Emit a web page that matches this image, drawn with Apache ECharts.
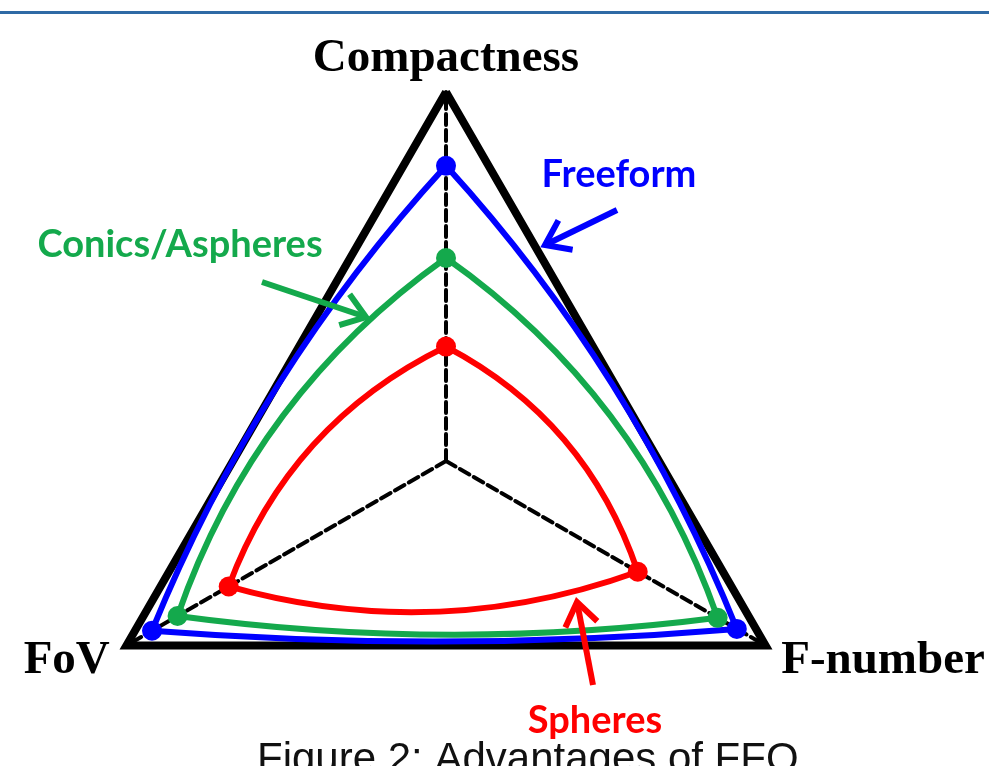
<!DOCTYPE html>
<html><head><meta charset="utf-8">
<script src="https://cdn.jsdelivr.net/npm/echarts@6/dist/echarts.min.js"></script>
<style>html,body{margin:0;padding:0;background:#fff}#c{width:989px;height:766px}</style>
</head><body><div id="c"></div>
<script>
// ---- data ----
const axes = ['Compactness', 'FoV', 'F-number'];
const freeform = [0.80, 0.92, 0.91];
const conics = [0.55, 0.84, 0.85];
const spheres = [0.31, 0.68, 0.60];
const seriesNames = ['Freeform', 'Conics/Aspheres', 'Spheres'];
const caption = 'Figure 2: Advantages of FFO';

// ---- styles ----
const BLUE = '#0000ff', GREEN = '#14a94c', RED = '#ff0000';
const CENTER = [446, 461], RADIUS = 369;
// outward bulge of each edge (fraction of chord): [top->FoV, FoV->F-number, F-number->top]
const bulgeBlue = [0.045, 0.02, 0.045];
const bulgeGreen = [0.08, 0.033, 0.08];
const bulgeRed = [0.10, 0.08, 0.10];

function makeCurve(name, values, color, bulge) {
  return {
    type: 'custom', name: name, coordinateSystem: 'polar', polarIndex: 0,
    data: values.map((v, i) => [v, i]),
    renderItem: function (params, api) {
      const n = values.length, i = params.dataIndex, j = (i + 1) % n;
      const p = api.coord([values[i], i]);
      const q = api.coord([values[j], j]);
      const c = api.coord([0, 0]);
      const mx = (p[0] + q[0]) / 2, my = (p[1] + q[1]) / 2;
      const dx = q[0] - p[0], dy = q[1] - p[1];
      const L = Math.hypot(dx, dy);
      let nx = -dy / L, ny = dx / L;
      if (nx * (mx - c[0]) + ny * (my - c[1]) < 0) { nx = -nx; ny = -ny; }
      const s = bulge[i] * L * 2;
      return {
        type: 'group',
        children: [
          { type: 'bezierCurve',
            shape: { x1: p[0], y1: p[1], x2: q[0], y2: q[1], cpx1: mx + nx * s, cpy1: my + ny * s },
            style: { stroke: color, lineWidth: 6, fill: 'none' }, z2: 1 },
          { type: 'circle', shape: { cx: p[0], cy: p[1], r: 10 },
            style: { fill: color, stroke: 'none' }, z2: 10 }
        ]
      };
    }
  };
}

function arrow(x1, y1, x2, y2, color) {
  const a = Math.atan2(y2 - y1, x2 - x1), w = 28, sp = 0.62;
  const l = [x2 - w * Math.cos(a - sp), y2 - w * Math.sin(a - sp)];
  const r = [x2 - w * Math.cos(a + sp), y2 - w * Math.sin(a + sp)];
  return [
    { type: 'line', shape: { x1: x1, y1: y1, x2: x2, y2: y2 }, style: { stroke: color, lineWidth: 6, lineCap: 'butt' }, z: 20 },
    { type: 'polyline', shape: { points: [l, [x2, y2], r] }, style: { stroke: color, lineWidth: 6, fill: 'none', lineJoin: 'miter' }, z: 20 }
  ];
}

const NAME_FONT = { fontFamily: 'Liberation Serif', fontWeight: 'bold', fontSize: 47, color: '#000' };
const chart = echarts.init(document.getElementById('c'), null, { renderer: 'canvas' });
chart.setOption({
  backgroundColor: '#ffffff',
  animation: false,
  radar: {
    center: CENTER, radius: RADIUS, startAngle: 90, shape: 'polygon', splitNumber: 1,
    indicator: axes.map(a => ({ name: a, min: 0, max: 1 })),
    nameGap: 10,
    axisName: Object.assign({}, NAME_FONT, {
      formatter: function (name) {
        if (name === axes[0]) return '{t|' + name + '}';
        if (name === axes[1]) return '{l|' + name + '}';
        return '{r|' + name + '}';
      },
      rich: {
        t: Object.assign({}, NAME_FONT, { padding: [0, 0, 0, 0] }),
        l: Object.assign({}, NAME_FONT, { padding: [21, 8, 0, 0] }),
        r: Object.assign({}, NAME_FONT, { padding: [21, 0, 0, 7] })
      }
    }),
    splitArea: { show: false },
    splitLine: { lineStyle: { color: '#000', width: 8, join: 'miter' } },
    axisLine: { lineStyle: { color: '#000', width: 4, type: [11, 5] } },
    axisTick: { show: false }, axisLabel: { show: false }
  },
  polar: { center: CENTER, radius: RADIUS },
  angleAxis: {
    type: 'category', data: axes, boundaryGap: false, startAngle: 90, clockwise: false,
    axisLine: { show: false }, axisTick: { show: false }, axisLabel: { show: false }, splitLine: { show: false }
  },
  radiusAxis: {
    type: 'value', min: 0, max: 1,
    axisLine: { show: false }, axisTick: { show: false }, axisLabel: { show: false }, splitLine: { show: false }
  },
  series: [
    makeCurve(seriesNames[0], freeform, BLUE, bulgeBlue),
    makeCurve(seriesNames[1], conics, GREEN, bulgeGreen),
    makeCurve(seriesNames[2], spheres, RED, bulgeRed)
  ],
  graphic: [
    { type: 'rect', shape: { x: 0, y: 11, width: 989, height: 3 }, style: { fill: '#2f6aa5' } },
    { type: 'text', x: 619, y: 175, style: { text: seriesNames[0], fill: BLUE, font: 'bold 38px Lato', align: 'center', verticalAlign: 'middle' } },
    { type: 'text', x: 180, y: 245, style: { text: seriesNames[1], fill: GREEN, font: 'bold 38px Lato', align: 'center', verticalAlign: 'middle' } },
    { type: 'text', x: 595, y: 721, style: { text: seriesNames[2], fill: RED, font: 'bold 38px Lato', align: 'center', verticalAlign: 'middle' } },
    { type: 'text', x: 257, y: 760, style: { text: caption, fill: '#111', font: '42px "Liberation Sans"', align: 'left', verticalAlign: 'middle' } },
    ...arrow(617, 210, 545, 245, BLUE),
    ...arrow(262, 282, 366, 317, GREEN),
    ...arrow(593, 685, 577, 602, RED)
  ]
});
</script>
</body></html>
